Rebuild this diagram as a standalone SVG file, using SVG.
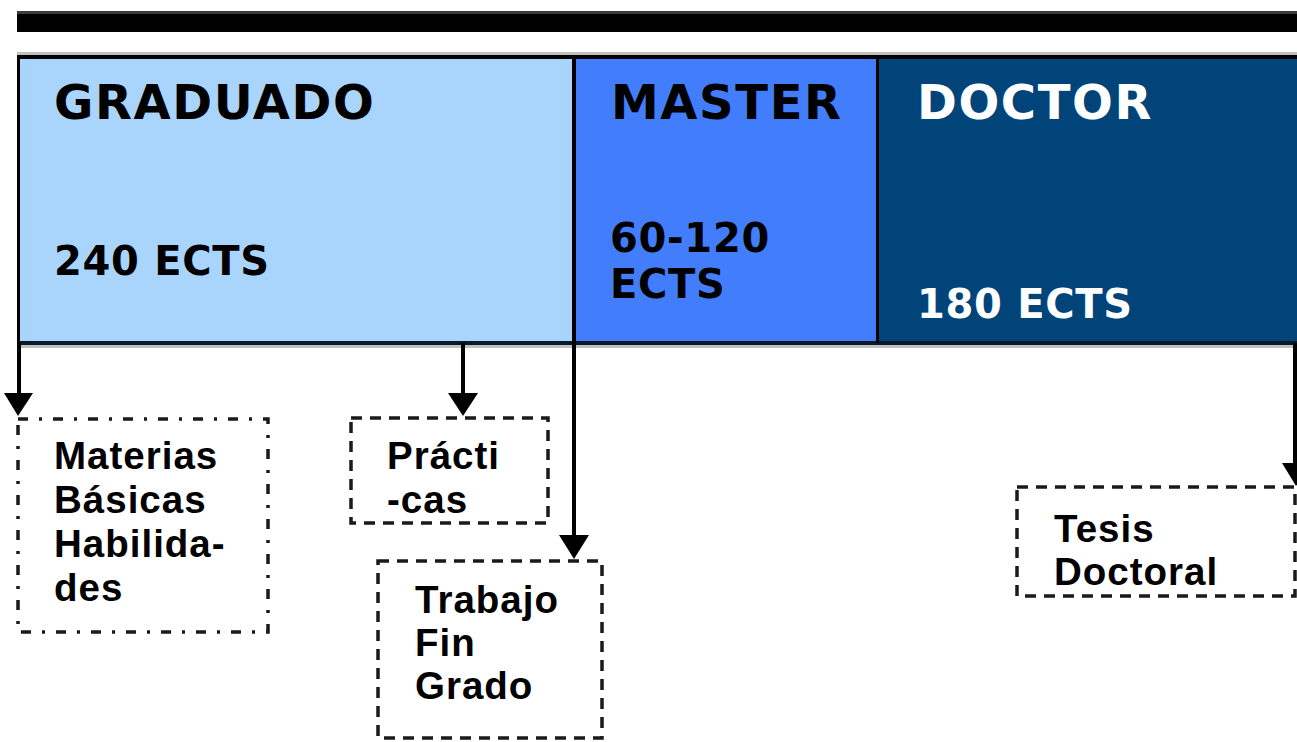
<svg xmlns="http://www.w3.org/2000/svg" width="1297" height="742" viewBox="0 0 1297 742">
<style>
.title{font-family:"DejaVu Sans",Verdana,sans-serif;font-weight:bold;font-size:48px;letter-spacing:1.6px;}
.ects{font-family:"DejaVu Sans",Verdana,sans-serif;font-weight:bold;font-size:40px;letter-spacing:0.7px;}
.lbl{font-family:"Liberation Sans",Arial,sans-serif;font-weight:bold;font-size:38.5px;letter-spacing:1px;fill:#000;}
.dash{fill:none;stroke:#1a1a1a;stroke-width:3.5;stroke-dasharray:11 8;}
.dashdot{fill:none;stroke:#1a1a1a;stroke-width:3.5;stroke-dasharray:10 11 3 11;}
.conn{stroke:#000;stroke-width:4;fill:none;}
</style>
<rect x="0" y="0" width="1297" height="742" fill="#fff"/>
<rect x="17" y="11" width="1280" height="3" fill="#3c3c3c"/>
<rect x="17" y="14" width="1280" height="18" fill="#000"/>
<rect x="17" y="52" width="1280" height="4" fill="#c0c0c0"/>
<rect x="17" y="344" width="1280" height="4" fill="#c0c0c0"/>
<g id="graduado">
<rect x="17" y="57" width="557" height="286" fill="#a9d5fd"/>
<text class="title" x="54" y="119">GRADUADO</text>
<text class="ects" x="54" y="275">240 ECTS</text>
</g>
<g id="master">
<rect x="574" y="57" width="304" height="286" fill="#427efc"/>
<text class="title" x="611" y="119">MASTER</text>
<text class="ects" x="610" y="252">60-120</text>
<text class="ects" x="610" y="298">ECTS</text>
</g>
<g id="doctor">
<rect x="878" y="57" width="419" height="286" fill="#00447a"/>
<text class="title" x="917" y="119" fill="#fff">DOCTOR</text>
<text class="ects" x="917" y="318" fill="#fff">180 ECTS</text>
</g>
<rect x="17" y="55" width="1280" height="4" fill="#000"/>
<rect x="17" y="341" width="1280" height="4" fill="#0a1a2a"/>
<rect x="17" y="57" width="3" height="286" fill="#000"/>
<rect x="572" y="57" width="3" height="286" fill="#1a2838"/>
<rect x="876" y="57" width="3" height="286" fill="#000"/>
<g id="connectors">
<line class="conn" x1="19" y1="343" x2="19" y2="396"/>
<polygon points="4,393 33,393 18,416" fill="#000"/>
<line class="conn" x1="463" y1="343" x2="463" y2="396"/>
<polygon points="448,393 478,393 463,416" fill="#000"/>
<line class="conn" x1="574" y1="57" x2="574" y2="538"/>
<polygon points="559,535 589,535 574,559" fill="#000"/>
<line class="conn" x1="1295" y1="343" x2="1295" y2="466"/>
<polygon points="1282,463 1310,463 1296,486" fill="#000"/>
</g>
<g id="materias">
<rect class="dashdot" x="18" y="419" width="250" height="213"/>
<text class="lbl" x="54" y="469">Materias</text>
<text class="lbl" x="54" y="513">Básicas</text>
<text class="lbl" x="54" y="557">Habilida-</text>
<text class="lbl" x="54" y="601">des</text>
</g>
<g id="practicas">
<rect class="dash" x="351" y="418" width="197" height="105"/>
<text class="lbl" x="387" y="469">Prácti</text>
<text class="lbl" x="387" y="513">-cas</text>
</g>
<g id="trabajo">
<rect class="dash" x="378" y="561" width="224" height="177"/>
<text class="lbl" x="415" y="613">Trabajo</text>
<text class="lbl" x="415" y="656">Fin</text>
<text class="lbl" x="415" y="699">Grado</text>
</g>
<g id="tesis">
<rect class="dash" x="1017" y="487" width="278" height="109"/>
<text class="lbl" x="1054" y="542">Tesis</text>
<text class="lbl" x="1054" y="585">Doctoral</text>
</g>
</svg>
